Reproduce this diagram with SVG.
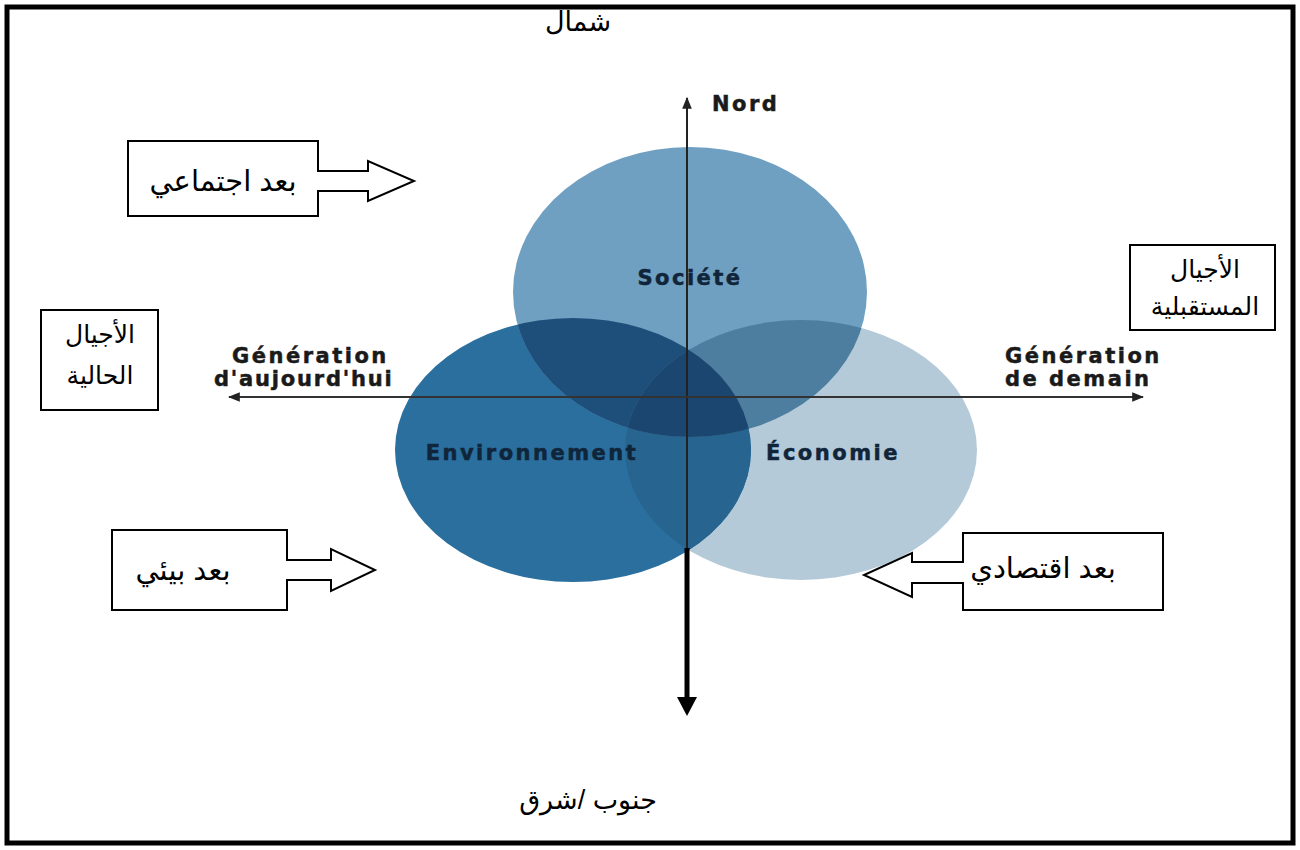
<svg xmlns="http://www.w3.org/2000/svg" width="1300" height="850" viewBox="0 0 1300 850">
<style>
.ar{font-family:"Liberation Sans","DejaVu Sans",sans-serif;font-size:29px;fill:#000;text-anchor:middle}
.ar2{font-family:"Liberation Sans","DejaVu Sans",sans-serif;font-size:25px;fill:#000;text-anchor:middle}
.fr{font-family:"DejaVu Sans","Liberation Sans",sans-serif;font-weight:bold;font-size:21px;letter-spacing:2.5px;fill:#1a1a1a;stroke:#1a1a1a;stroke-width:0.5}
.lbl{font-family:"DejaVu Sans","Liberation Sans",sans-serif;font-weight:bold;font-size:21px;letter-spacing:2.5px;fill:#10253a;stroke:#10253a;stroke-width:0.5;text-anchor:middle}
.box{fill:#fff;stroke:#000;stroke-width:2}
</style>
<defs>
<clipPath id="cS"><ellipse cx="690" cy="292" rx="177" ry="145"/></clipPath>
<clipPath id="cE"><ellipse cx="573" cy="450" rx="178" ry="132"/></clipPath>
<clipPath id="cC"><ellipse cx="801" cy="450" rx="176" ry="130"/></clipPath>
<marker id="ah" viewBox="0 0 10 10" refX="9" refY="5" markerWidth="6" markerHeight="6" orient="auto"><path d="M0,1 L10,5 L0,9 Z" fill="#222"/></marker>
</defs>
<rect x="0" y="0" width="1300" height="850" fill="#fff"/>
<rect x="7" y="7" width="1286" height="836" fill="none" stroke="#000" stroke-width="5"/>

<g id="circles">
<ellipse cx="801" cy="450" rx="176" ry="130" fill="#b4cad8"/>
<ellipse cx="573" cy="450" rx="178" ry="132" fill="#2a6f9e"/>
<ellipse cx="690" cy="292" rx="177" ry="145" fill="#6f9fc1"/>
<g clip-path="url(#cC)"><ellipse cx="573" cy="450" rx="178" ry="132" fill="#276590"/></g>
<g clip-path="url(#cS)"><ellipse cx="573" cy="450" rx="178" ry="132" fill="#1e4f7a"/></g>
<g clip-path="url(#cS)"><ellipse cx="801" cy="450" rx="176" ry="130" fill="#4e7e9f"/></g>
<g clip-path="url(#cS)"><g clip-path="url(#cE)"><ellipse cx="801" cy="450" rx="176" ry="130" fill="#1b4670"/></g></g>
</g>

<g id="connectors">
<line x1="687" y1="548" x2="687" y2="98" stroke="#222" stroke-width="2" marker-end="url(#ah)"/>
<line x1="690" y1="397" x2="1143" y2="397" stroke="#333" stroke-width="2" marker-end="url(#ah)"/>
<line x1="690" y1="397" x2="229" y2="397" stroke="#333" stroke-width="2" marker-end="url(#ah)"/>
<line x1="687" y1="548" x2="687" y2="700" stroke="#000" stroke-width="5"/>
<path d="M677,697 L697,697 L687,716 Z" fill="#000"/>
</g>

<g id="axis-labels">
<text class="fr" x="712" y="111">Nord</text>
<text class="fr" x="232" y="363">Génération</text>
<text class="fr" x="214" y="386" style="letter-spacing:1.8px">d'aujourd'hui</text>
<text class="fr" x="1005" y="363">Génération</text>
<text class="fr" x="1005" y="386">de demain</text>
</g>

<g id="n-societe"><text class="lbl" x="690" y="285">Société</text></g>
<g id="n-env"><text class="lbl" x="532" y="460">Environnement</text></g>
<g id="n-eco"><text class="lbl" x="833" y="460">Économie</text></g>

<g id="n-north"><text class="ar2" x="578" y="31" style="font-size:27px">شمال</text></g>
<g id="n-south"><text class="ar2" x="588" y="809" style="font-size:27px">جنوب /شرق</text></g>

<g id="n-social">
<path class="box" d="M128,141 H318 V171 H368 V161 L414,181 L368,201 V191 H318 V216 H128 Z"/>
<text class="ar" x="223" y="191">بعد اجتماعي</text>
</g>
<g id="n-environment">
<path class="box" d="M112,530 H287 V560 H331 V549 L375,570 L331,591 V580 H287 V610 H112 Z"/>
<text class="ar" x="183" y="580">بعد بيئي</text>
</g>
<g id="n-economic">
<path class="box" d="M963,533 H1163 V610 H963 V583 H912 V597 L864,575 L912,553 V562 H963 Z"/>
<text class="ar" x="1043" y="578">بعد اقتصادي</text>
</g>
<g id="n-future">
<rect class="box" x="1130" y="245" width="145" height="85"/>
<text class="ar2" x="1205" y="278">الأجيال</text>
<text class="ar2" x="1205" y="315">المستقبلية</text>
</g>
<g id="n-current">
<rect class="box" x="41" y="310" width="117" height="100"/>
<text class="ar2" x="100" y="343">الأجيال</text>
<text class="ar2" x="100" y="384">الحالية</text>
</g>
</svg>
